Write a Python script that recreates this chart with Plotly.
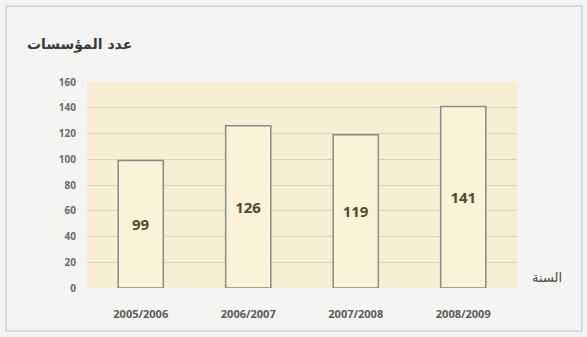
import plotly.graph_objects as go

years = ["2005/2006", "2006/2007", "2007/2008", "2008/2009"]
counts = [99, 126, 119, 141]
y_ticks = [0, 20, 40, 60, 80, 100, 120, 140, 160]

fig = go.Figure()
fig.add_trace(go.Bar(
    x=years, y=counts,
    text=[str(v) for v in counts],
    textposition="inside", insidetextanchor="middle",
    textfont=dict(family="Open Sans", size=15, color="#574832", weight="bold"),
    marker=dict(color="#fcf1d9", line=dict(color="#8c8a84", width=1.5)),
    width=0.42,
))

fig.update_layout(
    width=587, height=337,
    margin=dict(l=87, r=70, t=82, b=49),
    paper_bgcolor="#f4f4f2",
    plot_bgcolor="#f8eed5",
    showlegend=False,
    font=dict(family="Open Sans", color="#5e5e5e"),
    xaxis=dict(showgrid=False, showline=False, ticks="",
               tickfont=dict(size=11, weight="bold", color="#5a5a5a"),
               ticklabelstandoff=18),
    yaxis=dict(range=[0, 160], tickvals=y_ticks, showgrid=True,
               gridcolor="#ddd3bb", gridwidth=1, zeroline=False,
               showline=False, ticks="",
               tickfont=dict(size=10, weight="bold", color="#6a6a6a"),
               ticklabelstandoff=10),
    annotations=[
        dict(text="<b>عدد المؤسسات</b>", xref="paper", yref="paper",
             x=-0.145, y=1.18, xanchor="left", yanchor="middle",
             showarrow=False, font=dict(family="DejaVu Sans", size=14, color="#3a3a3a")),
        dict(text="السنة", xref="paper", yref="paper",
             x=1.03, y=0.05, xanchor="left", yanchor="middle",
             showarrow=False, font=dict(family="DejaVu Sans", size=13, color="#4a4a4a")),
    ],
    shapes=[
        dict(type="rect", xref="paper", yref="paper", x0=-0.188, x1=1.151, y0=-0.209, y1=1.369,
             line=dict(color="#cfcfcb", width=1.5), fillcolor="rgba(0,0,0,0)", layer="below"),
    ],
)

fig.write_html("out.html")
